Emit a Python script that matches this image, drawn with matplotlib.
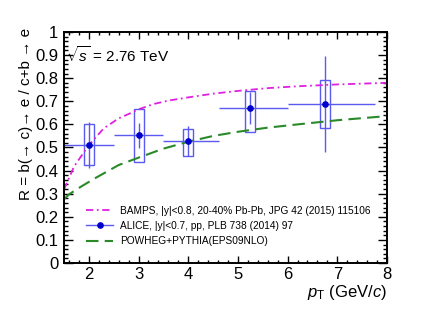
import numpy as np
import matplotlib
matplotlib.use('Agg')
import matplotlib.pyplot as plt
from matplotlib.patches import Rectangle
from matplotlib.ticker import MultipleLocator, FuncFormatter

plt.rcParams['font.family'] = ['Liberation Sans', 'DejaVu Sans']
plt.rcParams['mathtext.fontset'] = 'custom'
plt.rcParams['mathtext.rm'] = 'Liberation Sans'
plt.rcParams['mathtext.it'] = 'Liberation Sans:italic'

# ALICE data, pp 2.76 TeV
pt = [2.0, 3.0, 4.0, 5.25, 6.75]
R = [0.512, 0.553, 0.530, 0.670, 0.688]
pt_lo = [1.5, 2.5, 3.5, 4.62, 6.0]
pt_hi = [2.5, 3.5, 4.62, 6.0, 7.75]
stat = [0.10, 0.055, 0.065, 0.07, 0.207]
sys_up = [0.090, 0.114, 0.049, 0.075, 0.104]
sys_dn = [0.089, 0.117, 0.067, 0.104, 0.105]

# BAMPS
bamps_pt = [1.5, 1.7, 2.0, 2.3, 2.6, 2.8, 3.0, 3.3, 3.6, 4.0, 4.5, 5.0, 5.6, 6.2, 7.0, 8.0]
bamps_R = [0.318, 0.417, 0.51, 0.583, 0.626, 0.645, 0.665, 0.688, 0.703, 0.717,
           0.733, 0.745, 0.757, 0.765, 0.773, 0.78]

# POWHEG+PYTHIA
pow_pt = [1.5, 1.6, 1.8, 2.1, 2.6, 3.0, 3.5, 4.0, 4.5, 5.0, 5.6, 6.2, 7.0, 8.0]
pow_R = [0.276, 0.297, 0.325, 0.364, 0.424, 0.456, 0.495, 0.525, 0.55, 0.568,
         0.586, 0.6, 0.618, 0.636]

W, H = 430, 310
fig = plt.figure(figsize=(W/100, H/100), dpi=100)
ax = fig.add_axes([64/W, 1-263/H, (387-64)/W, (263-32)/H])

blue_line = '#5a5af0'
blue_mark = '#0000cc'

l1, = ax.plot(bamps_pt, bamps_R, color='#e020e0', lw=1.3, ls=(0, (4, 2, 1, 2)))
l3, = ax.plot(pow_pt, pow_R, color='#2a8a2a', lw=1.5, ls=(0, (6, 3)))

# stat + x errors
xerr = [np.array(pt) - np.array(pt_lo), np.array(pt_hi) - np.array(pt)]
ax.errorbar(pt, R, yerr=stat, xerr=xerr, fmt='none', ecolor=blue_line, elinewidth=1.0, capsize=0)
# systematic boxes
for x, y, u, d in zip(pt, R, sys_up, sys_dn):
    ax.add_patch(Rectangle((x-0.1, y-d), 0.2, u+d, fill=False, edgecolor=blue_line, lw=1.0))
ax.plot(pt, R, 'o', color=blue_mark, ms=3.8, zorder=5)

ax.set_xlim(1.5, 8)
ax.set_ylim(0, 1)
ax.xaxis.set_major_locator(MultipleLocator(1))
ax.xaxis.set_minor_locator(MultipleLocator(0.2))
ax.yaxis.set_major_locator(MultipleLocator(0.1))
ax.yaxis.set_minor_locator(MultipleLocator(0.02))
ax.yaxis.set_major_formatter(FuncFormatter(lambda v, p: f'{v:g}'))
ax.tick_params(which='both', direction='in', top=True, right=True, labelsize=12, width=1)
ax.tick_params(axis='x', which='major', length=5, pad=3)
ax.tick_params(axis='x', which='minor', length=2.5)
ax.tick_params(axis='y', which='major', length=6.5, pad=4)
ax.tick_params(axis='y', which='minor', length=3.2)
for s in ax.spines.values():
    s.set_linewidth(1.4)

fig.text(26/W, 1-28/H, 'R = b(→ c)→ e / c+b → e',
         rotation=90, ha='center', va='top', fontsize=11)
fig.text(387/W, 1-292/H, r'$p_{\mathrm{T}}$ (GeV/$c$)', ha='right', va='center', fontsize=12)
ax.text(66/W, 1-55/H, r'$\sqrt{s}$ = 2.76 TeV', transform=fig.transFigure,
        ha='left', va='center', fontsize=11)

alice_h, = ax.plot([], [], '-', color=blue_line, lw=1.0, marker='o', mfc=blue_mark,
                   mec=blue_mark, ms=3.8)
ax.legend([l1, alice_h, l3],
          ['BAMPS, |y|<0.8, 20-40% Pb-Pb, JPG 42 (2015) 115106',
           'ALICE, |y|<0.7, pp, PLB 738 (2014) 97',
           'POWHEG+PYTHIA(EPS09NLO)'],
          loc='center left', bbox_to_anchor=(86/W, 1-226/H), bbox_transform=fig.transFigure,
          frameon=False, fontsize=7.3, handlelength=2.7, handletextpad=0.7,
          labelspacing=0.5, borderpad=0, borderaxespad=0)

fig.savefig('out.png', dpi=100)
